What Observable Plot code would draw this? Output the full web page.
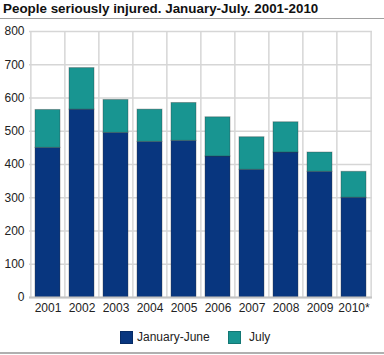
<!DOCTYPE html>
<html>
<head>
<meta charset="utf-8">
<script src="https://cdn.jsdelivr.net/npm/d3@7"></script>
<script src="https://cdn.jsdelivr.net/npm/@observablehq/plot@0.6"></script>
<style>
  html, body { margin: 0; padding: 0; background: #fff; }
  body { width: 384px; height: 355px; position: relative; overflow: hidden; font-family: "Liberation Sans", Arial, sans-serif; }
  #title { position: absolute; left: 3px; top: 1px; font-size: 13.4px; font-weight: bold; color: #111; white-space: nowrap; z-index: 2; }
  #tline { position: absolute; left: 0; top: 18px; width: 384px; height: 0; border-top: 1.5px solid #a0a0a0; z-index: 2; }
  #chart { position: absolute; left: 0; top: 0; z-index: 1; }
  #legend { position: absolute; left: 0; top: 330px; width: 384px; height: 16px; font-size: 12px; color: #222; z-index: 2; }
  .sw { position: absolute; top: 1px; width: 13px; height: 13px; box-sizing: border-box; border: 1px solid rgba(0,0,0,0.2); }
  .lt { position: absolute; top: 0px; white-space: nowrap; }
  #bline { position: absolute; left: 0; top: 352px; width: 384px; height: 0; border-top: 2px solid #b0b0b0; z-index: 2; }
</style>
</head>
<body>
<div id="chart"></div>
<div id="title">People seriously injured. January-July. 2001-2010</div>
<div id="tline"></div>
<div id="legend"></div>
<div id="bline"></div>
<script>
const years = ["2001","2002","2003","2004","2005","2006","2007","2008","2009","2010*"];
const janJune = [450, 565, 495, 468, 471, 424, 384, 436, 378, 300];
const july = [114, 125, 99, 97, 114, 118, 98, 91, 58, 78];
const seriesNames = ["January-June", "July"];
const seriesColors = ["#08367f", "#189591"];
const yTicks = [0, 100, 200, 300, 400, 500, 600, 700, 800];

const data = years.flatMap((y, i) => [
  {year: y, series: seriesNames[0], value: janJune[i]},
  {year: y, series: seriesNames[1], value: july[i]}
]);

const W = 384, H = 322, mL = 29, mR = 12, mT = 31, mB = 25;
const step = (W - mL - mR) / years.length;

const chart = Plot.plot({
  width: W, height: H,
  marginLeft: mL, marginRight: mR, marginTop: mT, marginBottom: mB,
  style: {fontFamily: "Liberation Sans, Arial, sans-serif", fontSize: "12px", color: "#222", background: "transparent"},
  x: {domain: years, paddingInner: 0.27, paddingOuter: 0.135, label: null, tickSize: 0, tickPadding: 6},
  y: {domain: [0, 800], ticks: yTicks, label: null, tickSize: 0, tickPadding: 5},
  color: {domain: seriesNames, range: seriesColors},
  marks: [
    Plot.ruleY(yTicks, {stroke: "#d6d6d6", strokeWidth: 1.5}),
    Plot.ruleX(years, {x: d => d, dx: -step / 2, stroke: "#d6d6d6", strokeWidth: 1.5}),
    Plot.ruleX(years.slice(-1), {x: d => d, dx: step / 2, stroke: "#d6d6d6", strokeWidth: 1.5}),
    Plot.barY(data, {x: "year", y: "value", fill: "series", stroke: "#333", strokeOpacity: 0.35, strokeWidth: 1}),
    Plot.ruleY([0], {stroke: "#c4c4c4", strokeWidth: 2})
  ]
});
document.getElementById("chart").appendChild(chart);

const legend = document.getElementById("legend");
const pos = [{sw: 120, tx: 137}, {sw: 228, tx: 249}];
seriesNames.forEach((name, i) => {
  const s = document.createElement("div");
  s.className = "sw";
  s.style.left = pos[i].sw + "px";
  s.style.background = seriesColors[i];
  legend.appendChild(s);
  const t = document.createElement("div");
  t.className = "lt";
  t.style.left = pos[i].tx + "px";
  t.textContent = name;
  legend.appendChild(t);
});
</script>
</body>
</html>
